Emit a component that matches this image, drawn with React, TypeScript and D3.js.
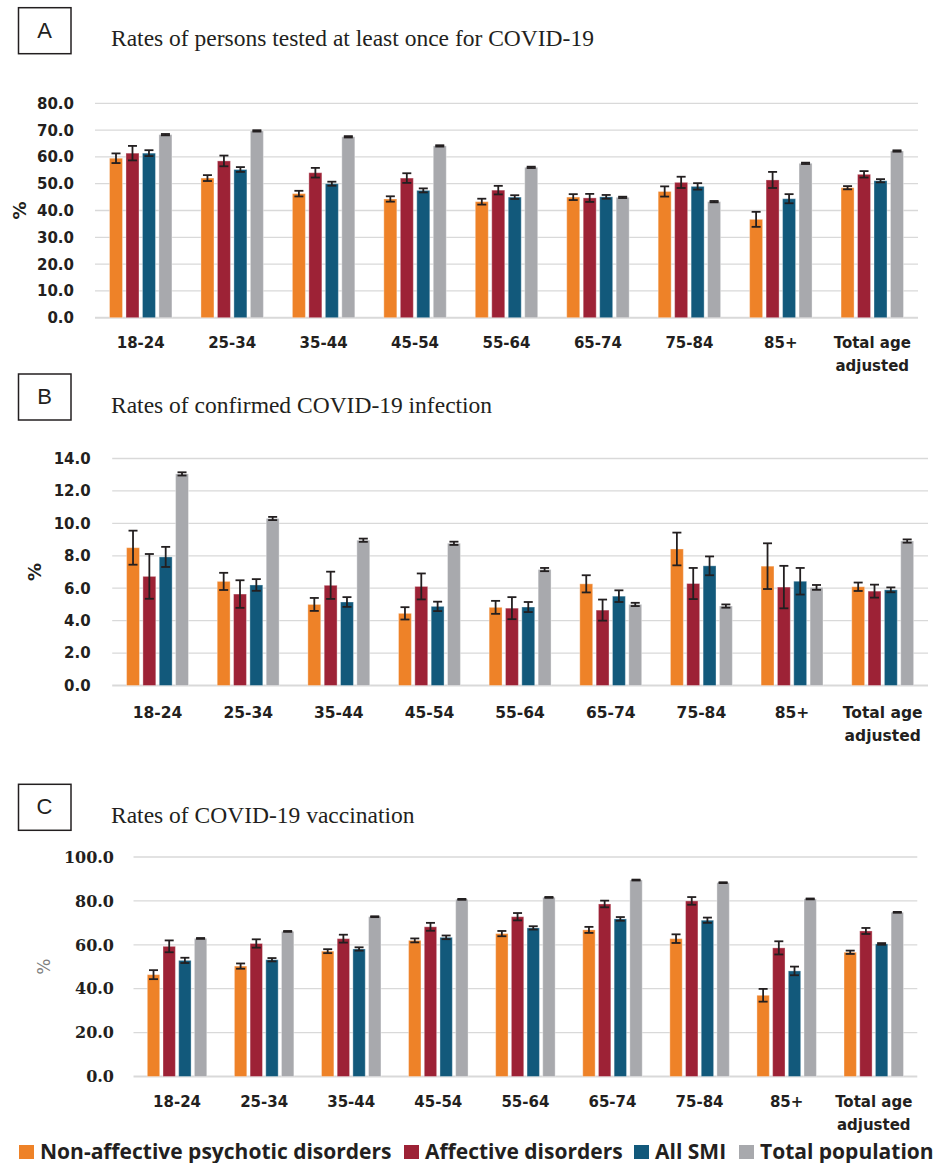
import * as d3 from 'd3';

// categories and series
const categories = ['18-24', '25-34', '35-44', '45-54', '55-64', '65-74', '75-84', '85+', 'Total age adjusted'];
const seriesNames = ['Non-affective psychotic disorders', 'Affective disorders', 'All SMI', 'Total population'];
const seriesColors = ['#ee8228', '#9d2236', '#12597b', '#a8a9ad'];

// A: tested at least once (%)
const testedNonAffective = [59.5, 52.1, 46.3, 44.3, 43.3, 45.0, 47.1, 36.7, 48.5];
const testedNonAffectiveErr = [1.8, 1.1, 1.05, 1.0, 1.1, 1.1, 1.9, 2.8, 0.6];
const testedAffective = [61.4, 58.5, 54.1, 52.1, 47.6, 44.7, 50.5, 51.4, 53.5];
const testedAffectiveErr = [2.7, 2.0, 1.8, 1.8, 1.6, 1.5, 2.1, 3.0, 1.2];
const testedAllSmi = [61.4, 55.3, 50.0, 47.5, 45.0, 45.1, 49.0, 44.4, 51.1];
const testedAllSmiErr = [1.1, 0.9, 0.75, 0.75, 0.7, 0.7, 1.2, 1.7, 0.6];
const testedTotal = [68.3, 69.7, 67.5, 64.1, 56.1, 44.9, 43.3, 57.6, 62.2];
const testedTotalErr = [0.25, 0.25, 0.25, 0.25, 0.25, 0.25, 0.25, 0.25, 0.25];

// B: confirmed infection (%)
const infectedNonAffective = [8.5, 6.42, 5.0, 4.45, 4.82, 6.27, 8.42, 7.36, 6.09];
const infectedNonAffectiveErr = [1.05, 0.53, 0.4, 0.38, 0.4, 0.53, 1.01, 1.41, 0.26];
const infectedAffective = [6.73, 5.64, 6.18, 6.11, 4.77, 4.65, 6.29, 6.07, 5.82];
const infectedAffectiveErr = [1.38, 0.85, 0.84, 0.8, 0.68, 0.65, 0.96, 1.31, 0.4];
const infectedAllSmi = [7.93, 6.2, 5.15, 4.88, 4.84, 5.51, 7.38, 6.43, 5.9];
const infectedAllSmiErr = [0.62, 0.36, 0.3, 0.29, 0.31, 0.36, 0.58, 0.82, 0.15];
const infectedTotal = [13.05, 10.3, 8.96, 8.77, 7.15, 5.0, 4.9, 6.05, 8.91];
const infectedTotalErr = [0.1, 0.1, 0.1, 0.1, 0.1, 0.1, 0.1, 0.15, 0.1];

// C: vaccination (%)
const vaccNonAffective = [46.4, 50.3, 57.1, 62.0, 65.1, 66.8, 62.8, 37.0, 56.6];
const vaccNonAffectiveErr = [2.05, 1.2, 0.9, 0.9, 1.2, 1.37, 1.97, 2.9, 0.76];
const vaccAffective = [59.3, 60.6, 62.8, 68.2, 72.8, 78.6, 80.0, 58.6, 66.3];
const vaccAffectiveErr = [2.7, 1.9, 1.8, 1.8, 1.67, 1.52, 1.75, 3.0, 1.37];
const vaccAllSmi = [52.9, 53.2, 58.1, 63.4, 67.7, 71.8, 71.2, 48.1, 60.4];
const vaccAllSmiErr = [1.2, 0.76, 0.76, 0.84, 0.76, 0.84, 1.2, 1.97, 0.38];
const vaccTotal = [62.9, 66.1, 72.8, 80.7, 81.6, 89.5, 88.3, 80.9, 74.8];
const vaccTotalErr = [0.2, 0.2, 0.2, 0.2, 0.2, 0.2, 0.2, 0.2, 0.2];

const TEXT = '#231f20';

type PanelProps = {
  letter: string;
  title: string;
  boxTop: number;
  values: number[][];
  errors: number[][];
  yMax: number;
  yStep: number;
  left: number;
  right: number;
  yTop: number;
  yBottom: number;
  tickRight: number;
  tickFont: string;
  tickSize: number;
  catSize: number;
  labelGap: number;
  pctX: number;
  pctStyle: { fill: string; weight: string; size: number };
};

const Panel = (p: PanelProps) => {
  const x0 = d3.scaleBand<string>().domain(categories).range([p.left, p.right]).padding(0);
  const x1 = d3.scaleBand<number>()
    .domain(d3.range(seriesNames.length))
    .range([0, x0.bandwidth()])
    .paddingInner(0.21)
    .paddingOuter(0.88);
  const y = d3.scaleLinear().domain([0, p.yMax]).range([p.yBottom, p.yTop]);
  const ticks = d3.range(0, p.yMax + p.yStep / 2, p.yStep);
  const fmt = d3.format('.1f');
  const capW = 9;

  return (
    <g>
      <rect x={18.5} y={p.boxTop} width={52.5} height={46} fill="none" stroke="#231f20" strokeWidth={1.5} />
      <text x={44.5} y={p.boxTop + 30} textAnchor="middle" fontFamily="Liberation Sans, Arial, sans-serif" fontSize={22} fill={TEXT}>
        {p.letter}
      </text>
      <text x={111} y={p.boxTop + 38.5} fontFamily="Liberation Serif, Times New Roman, serif" fontSize={23.5} fill={TEXT}>
        {p.title}
      </text>

      {ticks.map(t => (
        <g key={t}>
          <line x1={p.left} x2={p.right} y1={y(t)} y2={y(t)} stroke="#d9d9d9" strokeWidth={t === 0 ? 2 : 1.3} />
          <text x={p.tickRight} y={y(t)} dy="0.36em" textAnchor="end" fontFamily={p.tickFont} fontWeight="bold" fontSize={p.tickSize} fill={TEXT}>
            {fmt(t)}
          </text>
        </g>
      ))}

      <text
        transform={`translate(${p.pctX},${(p.yTop + p.yBottom) / 2}) rotate(-90)`}
        textAnchor="middle"
        dy="0.35em"
        fontFamily="DejaVu Sans, sans-serif"
        fontWeight={p.pctStyle.weight}
        fontSize={p.pctStyle.size}
        fill={p.pctStyle.fill}
      >
        %
      </text>

      {categories.map((c, ci) => (
        <g key={c}>
          {p.values.map((vals, si) => {
            const bx = x0(c)! + x1(si)!;
            const v = vals[ci];
            const e = p.errors[si][ci];
            const cx = bx + x1.bandwidth() / 2;
            return (
              <g key={si}>
                <rect
                  x={bx}
                  y={y(v)}
                  width={x1.bandwidth()}
                  height={y(0) - y(v)}
                  fill={seriesColors[si]}
                  stroke="#ffffff"
                  strokeOpacity={0.35}
                  strokeWidth={1}
                />
                <line x1={cx} x2={cx} y1={y(v - e)} y2={y(v + e)} stroke="#231f20" strokeWidth={1.8} />
                <line x1={cx - capW / 2} x2={cx + capW / 2} y1={y(v + e)} y2={y(v + e)} stroke="#231f20" strokeWidth={1.8} />
                <line x1={cx - capW / 2} x2={cx + capW / 2} y1={y(v - e)} y2={y(v - e)} stroke="#231f20" strokeWidth={1.8} />
              </g>
            );
          })}
          {c === 'Total age adjusted' ? (
            <text x={x0(c)! + x0.bandwidth() / 2} y={p.yBottom + p.labelGap} textAnchor="middle" fontFamily="DejaVu Sans, sans-serif" fontWeight="bold" fontSize={p.catSize} fill={TEXT}>
              <tspan x={x0(c)! + x0.bandwidth() / 2}>Total age</tspan>
              <tspan x={x0(c)! + x0.bandwidth() / 2} dy={23}>adjusted</tspan>
            </text>
          ) : (
            <text x={x0(c)! + x0.bandwidth() / 2} y={p.yBottom + p.labelGap} textAnchor="middle" fontFamily="DejaVu Sans, sans-serif" fontWeight="bold" fontSize={p.catSize} fill={TEXT}>
              {c}
            </text>
          )}
        </g>
      ))}
    </g>
  );
};

const legendX = [19, 404, 634, 739];

export default function App() {
  return (
    <svg width={936} height={1163} style={{ position: 'absolute', left: 0, top: 0, background: '#fff' }}>
      <Panel
        letter="A"
        title="Rates of persons tested at least once for COVID-19"
        boxTop={7.7}
        values={[testedNonAffective, testedAffective, testedAllSmi, testedTotal]}
        errors={[testedNonAffectiveErr, testedAffectiveErr, testedAllSmiErr, testedTotalErr]}
        yMax={80}
        yStep={10}
        left={95}
        right={918}
        yTop={103.3}
        yBottom={317.7}
        tickRight={74}
        tickFont="DejaVu Sans, sans-serif"
        tickSize={15}
        catSize={15}
        labelGap={30}
        pctX={20}
        pctStyle={{ fill: TEXT, weight: 'bold', size: 18 }}
      />
      <Panel
        letter="B"
        title="Rates of confirmed COVID-19 infection"
        boxTop={374}
        values={[infectedNonAffective, infectedAffective, infectedAllSmi, infectedTotal]}
        errors={[infectedNonAffectiveErr, infectedAffectiveErr, infectedAllSmiErr, infectedTotalErr]}
        yMax={14}
        yStep={2}
        left={112.2}
        right={928}
        yTop={458.5}
        yBottom={685.5}
        tickRight={90.7}
        tickFont="DejaVu Sans, sans-serif"
        tickSize={15}
        catSize={15.5}
        labelGap={32.5}
        pctX={35}
        pctStyle={{ fill: TEXT, weight: 'bold', size: 18 }}
      />
      <Panel
        letter="C"
        title="Rates of COVID-19 vaccination"
        boxTop={784.3}
        values={[vaccNonAffective, vaccAffective, vaccAllSmi, vaccTotal]}
        errors={[vaccNonAffectiveErr, vaccAffectiveErr, vaccAllSmiErr, vaccTotalErr]}
        yMax={100}
        yStep={20}
        left={133.5}
        right={917.3}
        yTop={857}
        yBottom={1076.5}
        tickRight={114}
        tickFont="DejaVu Serif, serif"
        tickSize={16}
        catSize={15}
        labelGap={30}
        pctX={44}
        pctStyle={{ fill: '#7f7f7f', weight: 'normal', size: 17 }}
      />

      {seriesNames.map((s, i) => (
        <g key={s}>
          <rect x={legendX[i]} y={1145} width={15} height={14} fill={seriesColors[i]} />
          <text x={legendX[i] + 21} y={1158.5} fontFamily="Open Sans, sans-serif" fontWeight="bold" fontSize={21} fill={TEXT}>
            {s}
          </text>
        </g>
      ))}
    </svg>
  );
}
